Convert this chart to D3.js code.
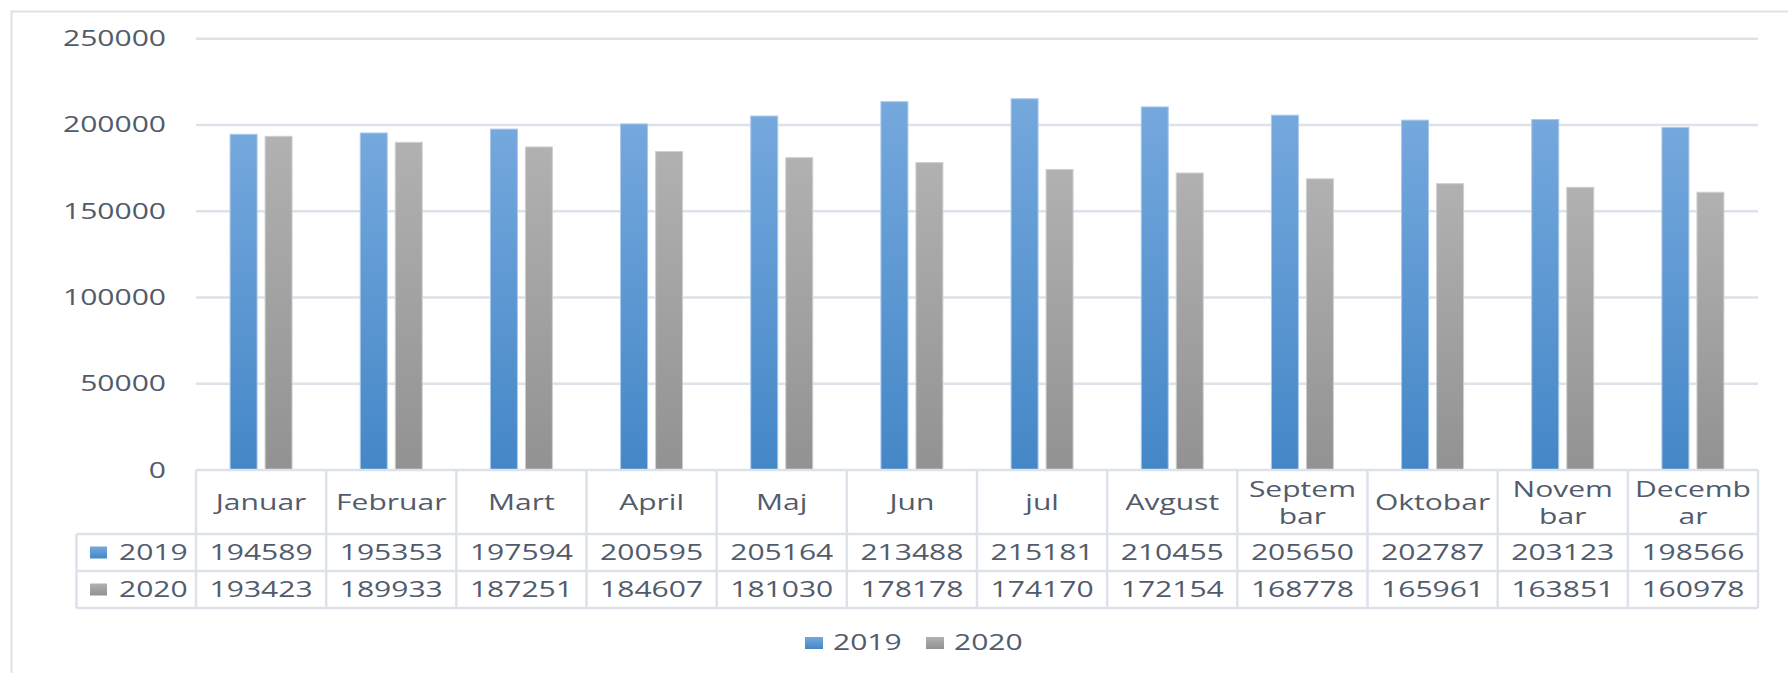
<!DOCTYPE html>
<html>
<head>
<meta charset="utf-8">
<script src="https://cdn.jsdelivr.net/npm/d3@7"></script>
<style>
  body { margin: 0; background: #fff; }
  svg { display: block; }
  text { font-family: "Open Sans", sans-serif; fill: #525b6b; }
</style>
</head>
<body>
<svg width="1788" height="673"></svg>
<script>
// chart data
var months = ['Januar', 'Februar', 'Mart', 'April', 'Maj', 'Jun', 'jul', 'Avgust',
              'Septem\nbar', 'Oktobar', 'Novem\nbar', 'Decemb\nar'];
var years = ['2019', '2020'];
var values2019 = [194589, 195353, 197594, 200595, 205164, 213488, 215181, 210455, 205650, 202787, 203123, 198566];
var values2020 = [193423, 189933, 187251, 184607, 181030, 178178, 174170, 172154, 168778, 165961, 163851, 160978];
var yTicks = [0, 50000, 100000, 150000, 200000, 250000];

var seriesValues = {'2019': values2019, '2020': values2020};

var svg = d3.select('svg');
var W = +svg.attr('width');
var H = +svg.attr('height');

// the source picture is stretched sideways, so text is too
var SX = 1.43;
var fontSize = 21;
var lineColor = '#dde2ea';

var plot = {l: 196, r: 1758, t: 38.7, b: 470};
var rowH = 37;
var headerBottom = 534;
var tableLeft = 76.5;

var x = d3.scaleBand().domain(d3.range(months.length)).range([plot.l, plot.r]);
var x1 = d3.scaleBand().domain(years).range([0, x.bandwidth()])
    .paddingInner(0.229).paddingOuter(0.974);
var y = d3.scaleLinear().domain([0, 250000]).range([plot.b, plot.t]);

var defs = svg.append('defs');
function gradient(id, top, bottom) {
    var g = defs.append('linearGradient').attr('id', id)
        .attr('x1', 0).attr('y1', 0).attr('x2', 0).attr('y2', 1);
    g.append('stop').attr('offset', '0%').attr('stop-color', top);
    g.append('stop').attr('offset', '100%').attr('stop-color', bottom);
}
gradient('g2019', '#75a8dd', '#4487c7');
gradient('g2020', '#b1b1b1', '#929292');
var fills = {'2019': 'url(#g2019)', '2020': 'url(#g2020)'};
var strokes = {'2019': '#a9c8ea', '2020': '#cfcfcf'};

function label(parent, px, py, str, anchor) {
    parent.append('g')
        .attr('transform', 'translate(' + [px, py] + ') scale(' + SX + ',1)')
        .append('text')
        .attr('text-anchor', anchor || 'middle')
        .attr('font-size', fontSize)
        .text(str);
}

// outer frame (cut off at right and bottom)
svg.append('path')
    .attr('d', 'M11.5,' + H + 'V11.5H' + W)
    .attr('fill', 'none').attr('stroke', lineColor).attr('stroke-width', 2);

// gridlines and y labels
var gridG = svg.append('g');
gridG.selectAll('line').data(yTicks.filter(function(d) { return d > 0; }))
    .enter().append('line')
    .attr('x1', plot.l).attr('x2', plot.r)
    .attr('y1', function(d) { return y(d); })
    .attr('y2', function(d) { return y(d); })
    .attr('stroke', lineColor).attr('stroke-width', 2.5);

yTicks.forEach(function(t) {
    label(gridG, 166, y(t) + 7.5, String(t), 'end');
});

// bars
var groups = svg.append('g').selectAll('.month')
    .data(months)
    .enter().append('g')
    .attr('class', 'month')
    .attr('transform', function(d, i) { return 'translate(' + [x(i), 0] + ')'; });

groups.selectAll('rect')
    .data(function(d, i) {
        return years.map(function(yr) { return {year: yr, value: seriesValues[yr][i]}; });
    })
    .enter().append('rect')
    .attr('x', function(d) { return x1(d.year); })
    .attr('width', x1.bandwidth())
    .attr('y', function(d) { return y(d.value); })
    .attr('height', function(d) { return y(0) - y(d.value); })
    .attr('fill', function(d) { return fills[d.year]; })
    .attr('stroke', function(d) { return strokes[d.year]; })
    .attr('stroke-width', 1);

// data table
var table = svg.append('g');
function hline(yy, xa, xb) {
    table.append('line').attr('x1', xa).attr('x2', xb).attr('y1', yy).attr('y2', yy)
        .attr('stroke', lineColor).attr('stroke-width', 2.5);
}
function vline(xx, ya, yb) {
    table.append('line').attr('x1', xx).attr('x2', xx).attr('y1', ya).attr('y2', yb)
        .attr('stroke', lineColor).attr('stroke-width', 2.5);
}
hline(plot.b, plot.l, plot.r);
hline(headerBottom, tableLeft, plot.r);
hline(headerBottom + rowH, tableLeft, plot.r);
hline(headerBottom + 2 * rowH, tableLeft, plot.r);
vline(tableLeft, headerBottom, headerBottom + 2 * rowH);
d3.range(months.length + 1).forEach(function(i) {
    var xx = i < months.length ? x(i) : plot.r;
    vline(xx, plot.b, headerBottom + 2 * rowH);
});

months.forEach(function(m, i) {
    var cx = x(i) + x.bandwidth() / 2;
    var lines = m.split('\n');
    if (lines.length === 1) {
        label(table, cx, 502 + 7.5, lines[0]);
    } else {
        label(table, cx, 489 + 7.5, lines[0]);
        label(table, cx, 516 + 7.5, lines[1]);
    }
});

years.forEach(function(yr, r) {
    var cy = headerBottom + r * rowH + rowH / 2;
    table.append('rect')
        .attr('x', 90).attr('y', cy - 6).attr('width', 17).attr('height', 12)
        .attr('fill', fills[yr]);
    label(table, 119, cy + 7.5, yr, 'start');
    seriesValues[yr].forEach(function(v, i) {
        label(table, x(i) + x.bandwidth() / 2, cy + 7.5, String(v));
    });
});

// legend
var legend = svg.append('g');
var legendX = {'2019': 805, '2020': 926};
years.forEach(function(yr) {
    legend.append('rect')
        .attr('x', legendX[yr]).attr('y', 637).attr('width', 18).attr('height', 12)
        .attr('fill', fills[yr]);
    label(legend, legendX[yr] + 28, 642 + 7.5, yr, 'start');
});
</script>
</body>
</html>
